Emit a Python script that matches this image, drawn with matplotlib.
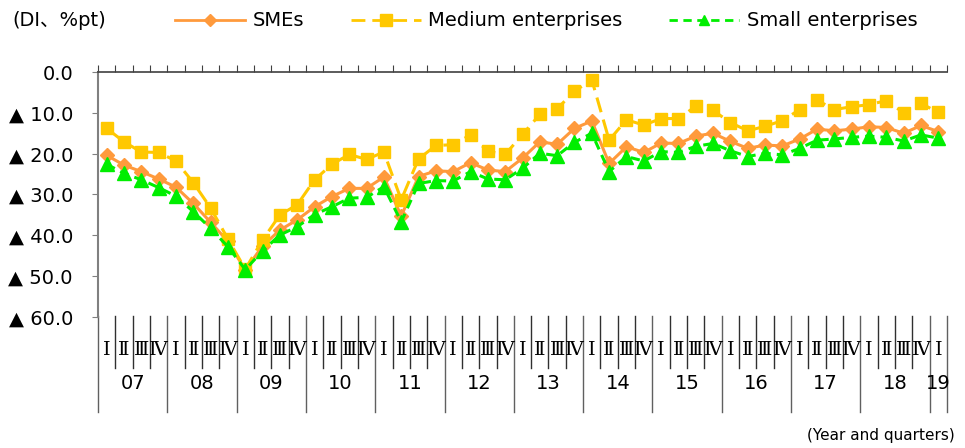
import numpy as np
import matplotlib
matplotlib.use("Agg")
import matplotlib.pyplot as plt
import matplotlib.transforms as mtransforms
from matplotlib.lines import Line2D

plt.rcParams['font.family'] = ['DejaVu Sans', 'Noto Sans CJK JP']

# DI values (negative = ▲), 2007 Q1 .. 2019 Q1
sme = [-20.4, -22.8, -24.4, -26.2, -28.2, -32.2, -36.8, -41.5, -48.5, -42.6,
       -38.7, -36.2, -33.0, -30.5, -28.5, -28.5, -25.7, -35.3, -25.6, -24.2,
       -24.4, -22.2, -24.0, -24.4, -21.1, -17.1, -17.7, -13.8, -12.0, -22.4,
       -18.3, -19.7, -17.4, -17.5, -15.7, -15.0, -17.0, -18.7, -17.9, -18.1,
       -16.4, -14.0, -14.4, -14.0, -13.4, -13.6, -15.0, -13.1, -14.6]
medium = [-13.8, -17.1, -19.6, -19.7, -21.8, -27.1, -33.3, -40.9, -48.3, -41.1,
          -35.0, -32.5, -26.4, -22.6, -20.2, -21.4, -19.6, -31.3, -21.3, -18.0,
          -17.8, -15.4, -19.4, -20.2, -15.3, -10.4, -9.0, -4.7, -1.9, -16.7,
          -11.7, -13.0, -11.4, -11.4, -8.4, -9.4, -12.4, -14.4, -13.3, -11.9,
          -9.2, -6.9, -9.2, -8.5, -8.0, -7.0, -10.0, -7.7, -9.9]
small = [-22.6, -24.8, -26.4, -28.3, -30.4, -34.2, -38.3, -42.8, -48.4, -43.8,
         -39.9, -37.9, -34.9, -33.0, -30.9, -30.7, -28.1, -36.7, -27.3, -26.6,
         -26.7, -24.4, -26.2, -26.4, -23.6, -19.9, -20.5, -17.2, -15.0, -24.4,
         -20.7, -21.8, -19.5, -19.7, -18.2, -17.5, -19.3, -20.7, -19.9, -20.3,
         -18.7, -16.7, -16.4, -16.0, -15.7, -16.0, -16.9, -15.4, -16.2]

quarters = ["Ⅰ", "Ⅱ", "Ⅲ", "Ⅳ"]
years = ["07", "08", "09", "10", "11", "12", "13", "14", "15", "16", "17", "18", "19"]
series_names = ["SMEs", "Medium enterprises", "Small enterprises"]

ORANGE = '#FF9A3C'
YELLOW = '#FFC800'
GREEN = '#00EE00'

fig = plt.figure(figsize=(9.65, 4.48), dpi=100)
ax = fig.add_axes([98/965, 1 - 317/448, 849/965, 245/448])

n = len(sme)
x = np.arange(n) + 0.5

ax.plot(x, sme, color=ORANGE, lw=2.2, marker='D', ms=7.5, zorder=3)
ax.plot(x, medium, color=YELLOW, lw=2.2, ls=(0, (5, 2.5)), marker='s', ms=9, zorder=3)
ax.plot(x, small, color=GREEN, lw=2.2, ls=(0, (3, 2)), marker='^', ms=9.5, zorder=4)

ax.set_xlim(0, n)
ax.set_ylim(-60, 0)
yt = np.arange(-60, 1, 10)
ax.set_yticks(yt)
ax.set_yticklabels(["0.0" if v == 0 else "▲ %.1f" % -v for v in yt], fontsize=14)
ax.tick_params(axis='y', direction='out', length=4, color='#808080', pad=14)

ax.xaxis.set_ticks_position('top')
ax.set_xticks(np.arange(n + 1))
ax.tick_params(axis='x', direction='out', length=5, color='#404040', labeltop=False, labelbottom=False)

for s in ('bottom', 'right'):
    ax.spines[s].set_visible(False)
ax.spines['top'].set_color('#404040')
ax.spines['top'].set_linewidth(1.2)
ax.spines['left'].set_color('#808080')
ax.spines['left'].set_linewidth(1.5)

# category axis below the plot
trans = mtransforms.blended_transform_factory(ax.transData, ax.transAxes)
for b in range(n + 1):
    if b % 4 == 0 or b == n:
        y0 = -0.388
        col = '#606060'
    else:
        y0 = -0.208
        col = '#303030'
    ax.plot([b, b], [0.004, y0], transform=trans, color=col, lw=1, clip_on=False)
for i in range(n):
    ax.text(i + 0.5, -0.135, quarters[i % 4], transform=trans, ha='center', va='center',
            family='DejaVu Serif', fontsize=14)
for k, yr in enumerate(years):
    start = 4 * k
    end = min(4 * k + 4, n)
    ax.text((start + end) / 2, -0.27, yr, transform=trans, ha='center', va='center', fontsize=14)

fig.text(12/965, 1 - 20/448, "(DI、%pt)", ha='left', va='center', fontsize=14)
fig.text(955/965, 1 - 435/448, "(Year and quarters)", ha='right', va='center', fontsize=11)

handles = [
    Line2D([], [], color=ORANGE, lw=2, marker='D', ms=6),
    Line2D([], [], color=YELLOW, lw=2, ls=(0, (5, 2.5)), marker='s', ms=8),
    Line2D([], [], color=GREEN, lw=2, ls=(0, (3, 2)), marker='^', ms=7),
]
fig.legend(handles, series_names, loc='center', bbox_to_anchor=(0.566, 1 - 21/448), ncol=3,
           frameon=False, fontsize=14, handlelength=3.6, handletextpad=0.4, columnspacing=2.4)

fig.savefig("out.png", dpi=100)
